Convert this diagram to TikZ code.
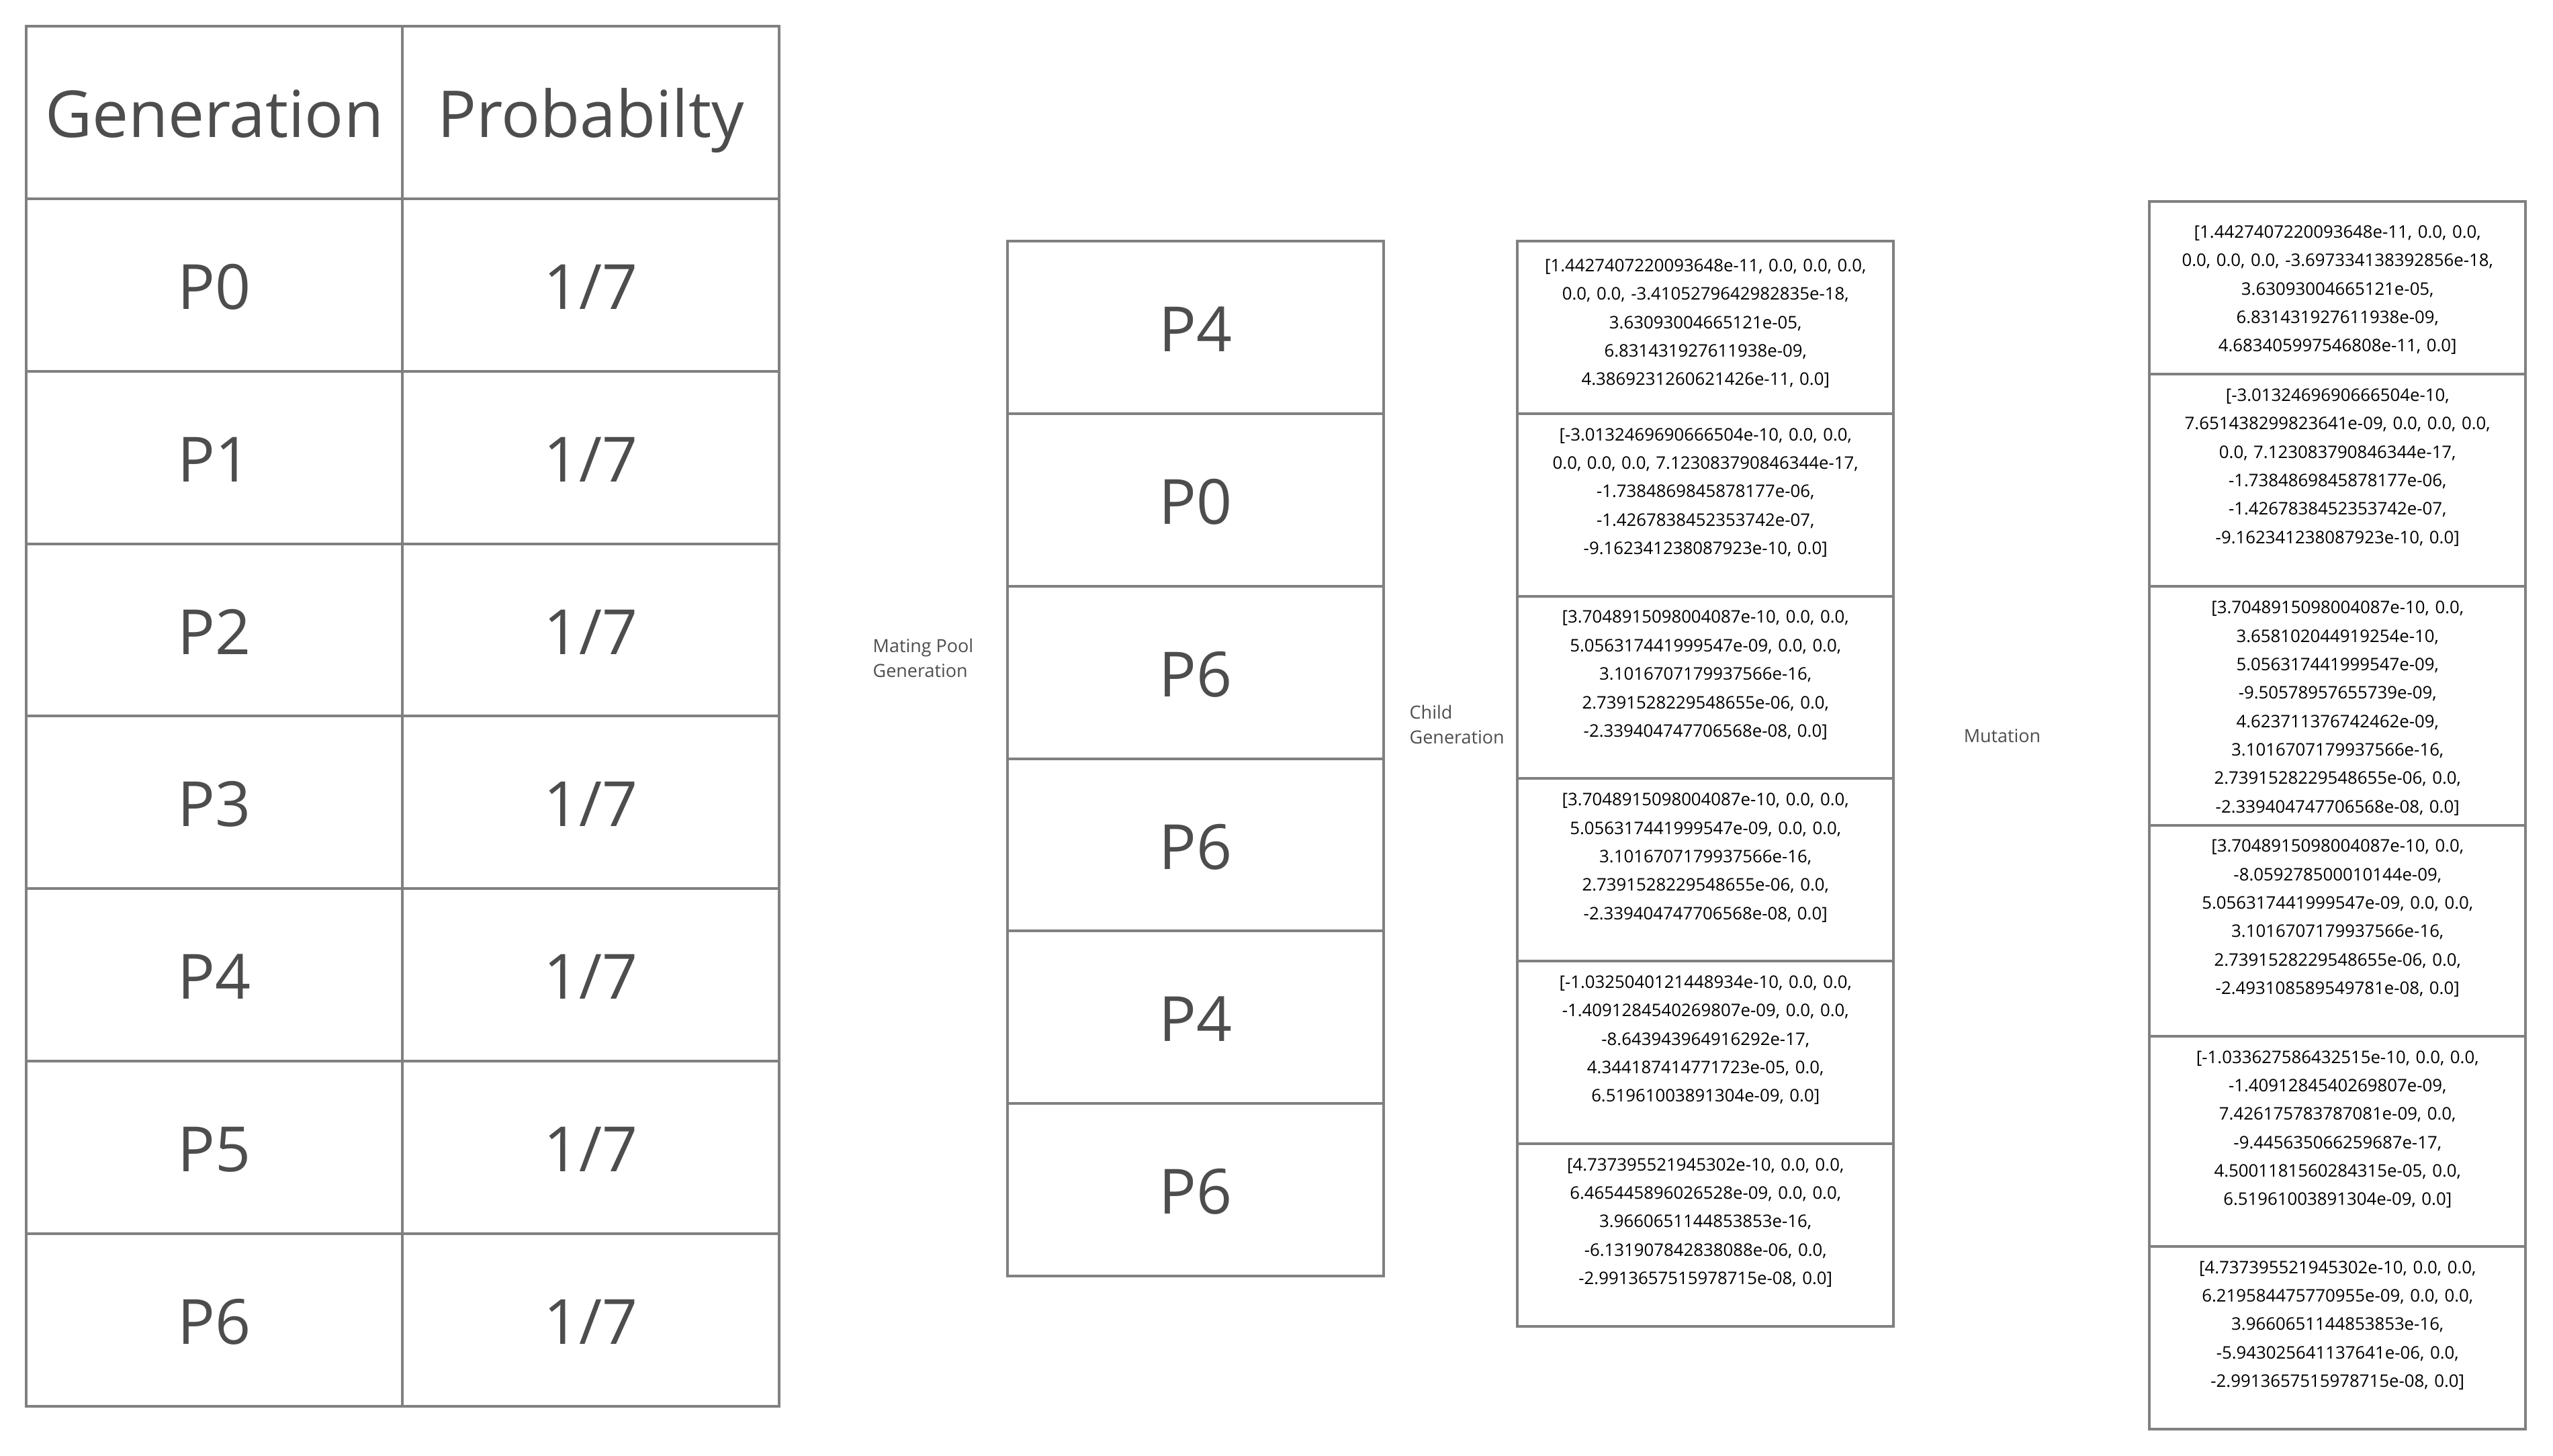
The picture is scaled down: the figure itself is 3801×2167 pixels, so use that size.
\documentclass[tikz,border=0pt]{standalone}
\usepackage{fontspec}
\setmainfont{Open Sans}
\usepackage{tikz}
\usetikzlibrary{positioning}
\definecolor{borda}{HTML}{808080}
\definecolor{texto}{HTML}{4D4D4D}

\begin{document}
\begin{tikzpicture}[
        x=0.01cm, y=-0.01cm,
        node distance=0pt,
        celula/.style={rectangle, draw=borda, line width=1.15pt, outer sep=0pt, inner sep=0pt, minimum width=5.60cm, minimum height=2.567cm, text height=23.8pt, text depth=3.3pt, text=texto, font=\fontsize{26.4}{32}\selectfont},
        cabecalho/.style={celula, text height=24.7pt, text depth=3.7pt, font=\fontsize{27.4}{33}\selectfont},
        vetor/.style={celula, minimum height=2.716cm},
        valores/.style={inner sep=0pt, text width=5.45cm, align=center, text=black, font=\fontsize{7.33}{12.05}\selectfont},
        rotulo/.style={inner sep=0pt, align=left, text=texto, font=\fontsize{7.66}{10.45}\selectfont}
    ]
    \useasboundingbox (0,0) rectangle (3801,2167);

    % TABELA DE PROBABILIDADES
    \node[cabecalho, anchor=north west] (cab_geracao) at (39,39) {Generation};
    \node[cabecalho, right=of cab_geracao] (cab_prob) {Probabilty};
    \node[celula, below=of cab_geracao] (ger_p0) {P0};
    \node[celula, right=of ger_p0] (prob_p0) {1/7};
    \node[celula, below=of ger_p0] (ger_p1) {P1};
    \node[celula, right=of ger_p1] (prob_p1) {1/7};
    \node[celula, below=of ger_p1] (ger_p2) {P2};
    \node[celula, right=of ger_p2] (prob_p2) {1/7};
    \node[celula, below=of ger_p2] (ger_p3) {P3};
    \node[celula, right=of ger_p3] (prob_p3) {1/7};
    \node[celula, below=of ger_p3] (ger_p4) {P4};
    \node[celula, right=of ger_p4] (prob_p4) {1/7};
    \node[celula, below=of ger_p4] (ger_p5) {P5};
    \node[celula, right=of ger_p5] (prob_p5) {1/7};
    \node[celula, below=of ger_p5] (ger_p6) {P6};
    \node[celula, right=of ger_p6] (prob_p6) {1/7};

    % MATING POOL
    \node[rotulo, anchor=west] (rot_pool) at (1299,980) {Mating Pool\\Generation};
    \node[celula, anchor=north west] (pool1) at (1500,359) {P4};
    \node[celula, below=of pool1] (pool2) {P0};
    \node[celula, below=of pool2] (pool3) {P6};
    \node[celula, below=of pool3] (pool4) {P6};
    \node[celula, below=of pool4] (pool5) {P4};
    \node[celula, below=of pool5] (pool6) {P6};

    % --- FILHOS ---
    \node[rotulo, anchor=west] (rot_filho) at (2098,1079) {Child\\Generation};
    \node[vetor, anchor=north west, minimum height=2.567cm] (filho1) at (2259,359) {};
    \node[vetor, below=of filho1] (filho2) {};
    \node[vetor, below=of filho2] (filho3) {};
    \node[vetor, below=of filho3] (filho4) {};
    \node[vetor, below=of filho4] (filho5) {};
    \node[vetor, below=of filho5] (filho6) {};
    \node[valores, below=0.26cm of filho1.north] (filho1_txt) {[1.4427407220093648e-11, 0.0, 0.0, 0.0,\\0.0, 0.0, -3.4105279642982835e-18,\\3.63093004665121e-05,\\6.831431927611938e-09,\\4.3869231260621426e-11, 0.0]};
    \node[valores, below=0.209cm of filho2.north] (filho2_txt) {[-3.0132469690666504e-10, 0.0, 0.0,\\0.0, 0.0, 0.0, 7.123083790846344e-17,\\-1.7384869845878177e-06,\\-1.4267838452353742e-07,\\-9.162341238087923e-10, 0.0]};
    \node[valores, below=0.209cm of filho3.north] (filho3_txt) {[3.7048915098004087e-10, 0.0, 0.0,\\5.056317441999547e-09, 0.0, 0.0,\\3.1016707179937566e-16,\\2.7391528229548655e-06, 0.0,\\-2.339404747706568e-08, 0.0]};
    \node[valores, below=0.209cm of filho4.north] (filho4_txt) {[3.7048915098004087e-10, 0.0, 0.0,\\5.056317441999547e-09, 0.0, 0.0,\\3.1016707179937566e-16,\\2.7391528229548655e-06, 0.0,\\-2.339404747706568e-08, 0.0]};
    \node[valores, below=0.209cm of filho5.north] (filho5_txt) {[-1.0325040121448934e-10, 0.0, 0.0,\\-1.4091284540269807e-09, 0.0, 0.0,\\-8.643943964916292e-17,\\4.344187414771723e-05, 0.0,\\6.51961003891304e-09, 0.0]};
    \node[valores, below=0.209cm of filho6.north] (filho6_txt) {[4.737395521945302e-10, 0.0, 0.0,\\6.465445896026528e-09, 0.0, 0.0,\\3.9660651144853853e-16,\\-6.131907842838088e-06, 0.0,\\-2.9913657515978715e-08, 0.0]};

    % --- MUTACAO ---
    \node[rotulo, anchor=west] (rot_mut) at (2923,1096) {Mutation};
    \node[vetor, anchor=north west, minimum height=2.57cm] (mut1) at (3200,300) {};
    \node[vetor, below=of mut1, minimum height=3.16cm] (mut2) {};
    \node[vetor, below=of mut2, minimum height=3.55cm] (mut3) {};
    \node[vetor, below=of mut3, minimum height=3.14cm] (mut4) {};
    \node[vetor, below=of mut4, minimum height=3.13cm] (mut5) {};
    \node[vetor, below=of mut5, minimum height=2.72cm] (mut6) {};
    \node[valores, below=0.35cm of mut1.north] (mut1_txt) {[1.4427407220093648e-11, 0.0, 0.0,\\0.0, 0.0, 0.0, -3.697334138392856e-18,\\3.63093004665121e-05,\\6.831431927611938e-09,\\4.683405997546808e-11, 0.0]};
    \node[valores, below=0.209cm of mut2.north] (mut2_txt) {[-3.0132469690666504e-10,\\7.651438299823641e-09, 0.0, 0.0, 0.0,\\0.0, 7.123083790846344e-17,\\-1.7384869845878177e-06,\\-1.4267838452353742e-07,\\-9.162341238087923e-10, 0.0]};
    \node[valores, below=0.209cm of mut3.north] (mut3_txt) {[3.7048915098004087e-10, 0.0,\\3.658102044919254e-10,\\5.056317441999547e-09,\\-9.50578957655739e-09,\\4.623711376742462e-09,\\3.1016707179937566e-16,\\2.7391528229548655e-06, 0.0,\\-2.339404747706568e-08, 0.0]};
    \node[valores, below=0.209cm of mut4.north] (mut4_txt) {[3.7048915098004087e-10, 0.0,\\-8.059278500010144e-09,\\5.056317441999547e-09, 0.0, 0.0,\\3.1016707179937566e-16,\\2.7391528229548655e-06, 0.0,\\-2.493108589549781e-08, 0.0]};
    \node[valores, below=0.209cm of mut5.north] (mut5_txt) {[-1.033627586432515e-10, 0.0, 0.0,\\-1.4091284540269807e-09,\\7.426175783787081e-09, 0.0,\\-9.445635066259687e-17,\\4.5001181560284315e-05, 0.0,\\6.51961003891304e-09, 0.0]};
    \node[valores, below=0.209cm of mut6.north] (mut6_txt) {[4.737395521945302e-10, 0.0, 0.0,\\6.219584475770955e-09, 0.0, 0.0,\\3.9660651144853853e-16,\\-5.943025641137641e-06, 0.0,\\-2.9913657515978715e-08, 0.0]};

\end{tikzpicture}
\end{document}
